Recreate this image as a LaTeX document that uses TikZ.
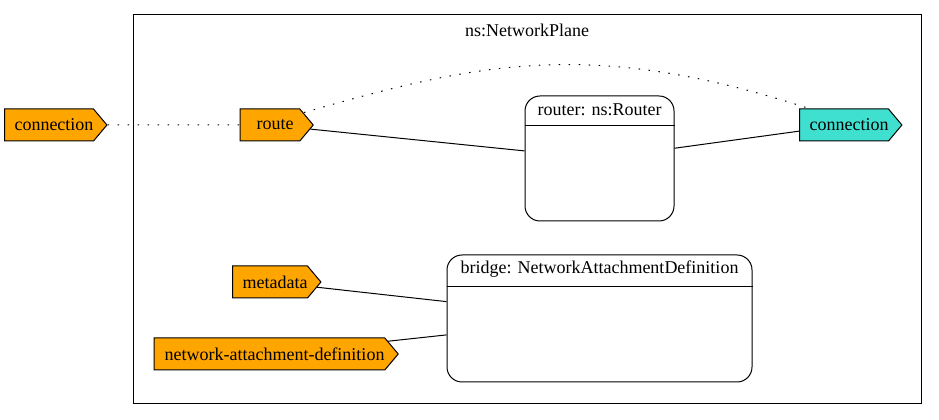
\documentclass[tikz,border=0pt]{standalone}
\usepackage{fontspec}
\setmainfont{Liberation Serif}
\usetikzlibrary{shapes.symbols,positioning,calc}
\definecolor{gvorange}{HTML}{FFA500}
\definecolor{gvturq}{HTML}{40E0D0}

\begin{document}
\begin{tikzpicture}[
    x=1pt, y=1pt,
    every node/.style={font=\fontsize{18}{21}\selectfont},
    port/.style={signal, signal to=east, signal pointer angle=100, draw=black, line width=1pt, minimum height=32pt, inner sep=0pt, text centered, execute at begin node=\hspace*{10pt}},
    portin/.style={port, fill=gvorange},
    portout/.style={port, fill=gvturq},
    state/.style={rectangle, draw=black, line width=1pt, rounded corners=15pt, fill=white},
    cluster/.style={rectangle, draw=black, line width=1pt},
    link/.style={line width=1pt},
    hint/.style={line width=1pt, dash pattern=on 1.5pt off 8.5pt}
]
    \useasboundingbox (0,0) rectangle (939,420);

    % Cluster
    \node[cluster, minimum width=788, minimum height=389] (plane) at (527,210.5) {};
    \node[inner sep=0pt] (planelbl) at (527,390) {ns:NetworkPlane};

    % Ports
    \node[portin, minimum width=101] (extconn) at (49,295) {connection};
    \node[portin, minimum width=73] (route) at (270,295) {route};
    \node[portout, minimum width=101] (conn) at (844,295) {connection};
    \node[portin, minimum width=87] (meta) at (270,138) {metadata};
    \node[portin, minimum width=244] (nad) at (269.5,66) {network-attachment-definition};

    % States
    \node[state, minimum width=149, minimum height=125] (router) at (599.5,261.5) {};
    \node[inner sep=0pt] (routerlbl) at ($(router.north)+(0,-14)$) {router: ns:Router};
    \draw[link] ($(router.north west)+(0,-30)$) -- ($(router.north east)+(0,-30)$);

    \node[state, minimum width=305, minimum height=127] (bridge) at (599.5,101.5) {};
    \node[inner sep=0pt] (bridgelbl) at ($(bridge.north)+(0,-15)$) {bridge: NetworkAttachmentDefinition};
    \draw[link] ($(bridge.north west)+(0,-32)$) -- ($(bridge.north east)+(0,-32)$);

    % Interactions
    \draw[hint] (extconn) -- (route);
    \draw[hint] ([shift={(4,-4)}]route.north east) .. controls +(16:180) and +(162:230) .. ([xshift=10]conn.north west);
    \draw[link] (route) -- (router);
    \draw[link] (router) -- (conn);
    \draw[link] (meta) -- (bridge);
    \draw[link] (nad) -- (bridge);

\end{tikzpicture}
\end{document}
